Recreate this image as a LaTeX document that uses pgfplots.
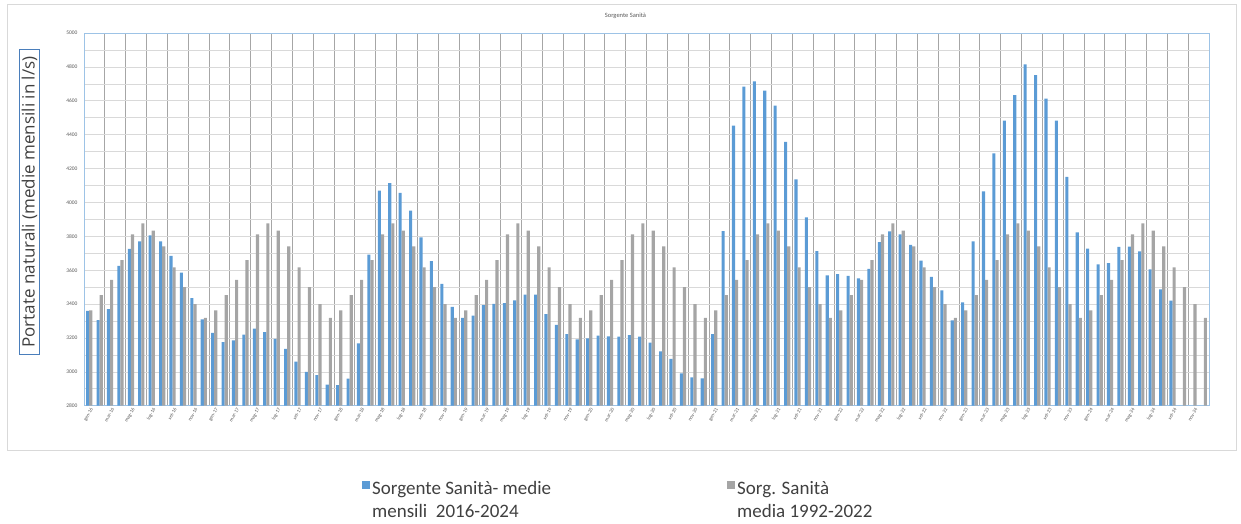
\documentclass[border=0pt]{standalone}
\usepackage{fontspec}
\setmainfont{Carlito}
\newfontfamily\labelfont{Open Sans}
\usepackage{pgfplots}
\usepackage{pgfplotstable}
\pgfplotsset{compat=1.18}
\definecolor{cblue}{HTML}{5B9BD5}
\definecolor{cgray}{HTML}{A5A5A5}
\definecolor{axisblue}{HTML}{9DC3E6}
\definecolor{vgrid}{HTML}{A6A6A6}
\definecolor{hgrid}{HTML}{D9D9D9}
\definecolor{txt}{HTML}{595959}
\definecolor{boxblue}{HTML}{4A7EBB}
\definecolor{legtxt}{HTML}{404040}

\pgfplotstableread{
k b g
0 3360 3363
1 3305 3453
2 3370 3543
3 3625 3660
4 3725 3811
5 3770 3876
6 3805 3834
7 3770 3740
8 3685 3617
9 3585 3500
10 3435 3400
11 3310 3318
12 3230 3363
13 3175 3453
14 3185 3543
15 3220 3660
16 3255 3811
17 3235 3876
18 3195 3834
19 3135 3740
20 3060 3617
21 3000 3500
22 2980 3400
23 2925 3318
24 2922 3363
25 2960 3453
26 3168 3543
27 3692 3660
28 4069 3811
29 4114 3876
30 4057 3834
31 3952 3740
32 3793 3617
33 3653 3500
34 3519 3400
35 3383 3318
36 3318 3363
37 3332 3453
38 3393 3543
39 3401 3660
40 3405 3811
41 3421 3876
42 3456 3834
43 3456 3740
44 3340 3617
45 3277 3500
46 3222 3400
47 3192 3318
48 3198 3363
49 3213 3453
50 3209 3543
51 3207 3660
52 3217 3811
53 3207 3876
54 3172 3834
55 3121 3740
56 3077 3617
57 2991 3500
58 2967 3400
59 2961 3318
60 3223 3363
61 3831 3453
62 4453 3543
63 4683 3660
64 4715 3811
65 4660 3876
66 4571 3834
67 4357 3740
68 4136 3617
69 3912 3500
70 3713 3400
71 3570 3318
72 3577 3363
73 3566 3453
74 3552 3543
75 3607 3660
76 3766 3811
77 3829 3876
78 3812 3834
79 3749 3740
80 3656 3617
81 3560 3500
82 3481 3400
83 3304 3318
84 3410 3363
85 3770 3453
86 4065 3543
87 4290 3660
88 4483 3811
89 4634 3876
90 4815 3834
91 4752 3740
92 4613 3617
93 4483 3500
94 4150 3400
95 3823 3318
96 3727 3363
97 3634 3453
98 3642 3543
99 3737 3660
100 3739 3811
101 3711 3876
102 3605 3834
103 3487 3740
104 3420 3617
105 nan 3500
106 nan 3400
107 nan 3318
}\datatab

\begin{document}
\begin{tikzpicture}[x=1pt,y=1pt]
\path[use as bounding box] (0,0) rectangle (1241,524);
\draw[color=black!15, line width=0.8pt] (7,74) rectangle (1236,520);
\node[font=\fontsize{6.5}{7}\selectfont, text=txt] at (625.5,508) {Sorgente Sanità};
\begin{axis}[
  at={(84pt,118.3pt)}, anchor=south west,
  scale only axis, width=1125pt, height=372.7pt,
  xmin=-0.5, xmax=107.5, ymin=2800, ymax=5000,
  ybar, bar width=0.3,
  xtick={0,2,...,106},
  xticklabels={gen-16,mar-16,mag-16,lug-16,set-16,nov-16,
    gen-17,mar-17,mag-17,lug-17,set-17,nov-17,
    gen-18,mar-18,mag-18,lug-18,set-18,nov-18,
    gen-19,mar-19,mag-19,lug-19,set-19,nov-19,
    gen-20,mar-20,mag-20,lug-20,set-20,nov-20,
    gen-21,mar-21,mag-21,lug-21,set-21,nov-21,
    gen-22,mar-22,mag-22,lug-22,set-22,nov-22,
    gen-23,mar-23,mag-23,lug-23,set-23,nov-23,
    gen-24,mar-24,mag-24,lug-24,set-24,nov-24},
  minor xtick={1.5,3.5,...,105.5},
  ytick={2800,3000,...,5000},
  minor ytick={2900,3100,...,4900},
  xminorgrids, ymajorgrids, yminorgrids,
  every minor grid/.style={}, every major grid/.style={},
  x grid style={color=vgrid, line width=0.7pt},
  y grid style={color=hgrid, line width=0.6pt},
  major tick length=0pt, minor tick length=0pt,
  axis line style={color=axisblue, line width=0.9pt},
  /pgf/number format/1000 sep={},
  /pgf/number format/assume math mode=true,
  yticklabel style={font=\fontsize{5.5}{6}\selectfont, text=txt, xshift=-3pt},
  xticklabel style={font=\fontsize{5}{5.5}\selectfont, text=txt, rotate=60, anchor=east, yshift=-4pt, inner sep=1pt},
  every axis y label/.style={at={(axis description cs:0,0.5466)}, xshift=-54.5pt,
    rotate=90, anchor=center, draw=boxblue, line width=1.5pt,
    inner xsep=7pt, inner ysep=2pt,
    font=\labelfont\fontsize{17}{18}\selectfont, text=legtxt},
  ylabel={Portate naturali (medie mensili in l/s)},
  legend columns=2,
  legend style={draw=none, fill=none, inner sep=0pt, column sep=0pt,
    at={(axis description cs:0.2471,-0.198)}, anchor=north west,
    font=\fontsize{19}{23}\selectfont, text=legtxt,
    nodes={inner sep=2pt}},
  legend image code/.code={\path[#1, draw=none] (0pt,0.5pt) rectangle (8pt,8.5pt);},
]
\addplot[fill=cblue, draw=none, bar shift=-0.15] table[x=k, y=b] {\datatab};
\addlegendentry{\parbox[t]{353pt}{Sorgente Sanità- medie\\mensili\ \ 2016-2024}}
\addplot[fill=cgray, draw=none, bar shift=0.15] table[x=k, y=g] {\datatab};
\addlegendentry{\parbox[t]{160pt}{Sorg. Sanità\\media 1992-2022}}
\end{axis}
\end{tikzpicture}
\end{document}
